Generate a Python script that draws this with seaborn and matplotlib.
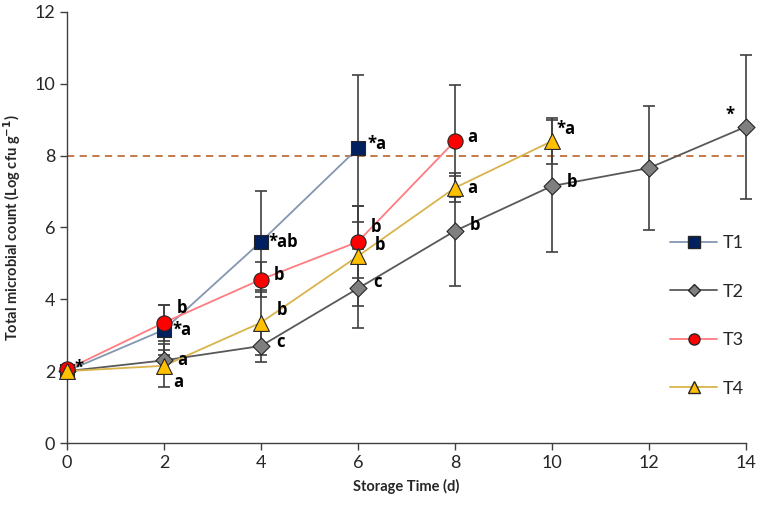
"""
Microbial growth over storage time for four treatments (T1-T4),
with error bars, significance letters and the 8 log cfu/g limit line.
"""
import numpy as np
import pandas as pd
import matplotlib
matplotlib.use('Agg')
import matplotlib.pyplot as plt
from matplotlib.lines import Line2D
import seaborn as sns

# 1. Data
days_t1 = [0, 2, 4, 6]
count_t1 = [2.0, 3.15, 5.6, 8.2]
err_t1 = [0.0, 0.7, 1.4, 2.05]

days_t2 = [0, 2, 4, 6, 8, 10, 12, 14]
count_t2 = [2.0, 2.3, 2.7, 4.3, 5.9, 7.15, 7.65, 8.8]
err_t2 = [0.0, 0.3, 0.45, 1.1, 1.53, 1.83, 1.72, 2.0]

days_t3 = [0, 2, 4, 6, 8]
count_t3 = [2.05, 3.35, 4.55, 5.6, 8.4]
err_t3 = [0.0, 0.5, 0.5, 1.0, 1.55]

days_t4 = [0, 2, 4, 6, 8, 10]
count_t4 = [2.0, 2.15, 3.35, 5.2, 7.1, 8.4]
err_t4 = [0.0, 0.6, 0.9, 1.4, 0.4, 0.65]

limit = 8.0

# significance letters: (day, value, label)
letters = [
    (0, 2.0, '*'),
    (2, 3.15, '*a'), (2, 3.35, 'b'), (2, 2.3, 'a'), (2, 2.15, 'a'),
    (4, 5.6, '*ab'), (4, 4.55, 'b'), (4, 3.35, 'b'), (4, 2.7, 'c'),
    (6, 8.2, '*a'), (6, 5.6, 'b'), (6, 5.2, 'b'), (6, 4.3, 'c'),
    (8, 8.4, 'a'), (8, 7.1, 'a'), (8, 5.9, 'b'),
    (10, 8.4, '*a'), (10, 7.15, 'b'),
    (14, 8.8, '*'),
]
# pixel offsets for each letter, same order as above
letter_offsets = [
    (8, 3), (9, 0), (13, 15), (13, 0), (9, -16),
    (8, 0), (13, 5), (16, 13), (15, 4),
    (10, 4), (13, 15), (17, 11), (15, 6),
    (12, 4), (12, 0), (15, 6),
    (5, 12), (15, 4),
    (-20, 12),
]

# 2. Long table for seaborn
series = {
    'T1': (days_t1, count_t1, err_t1),
    'T2': (days_t2, count_t2, err_t2),
    'T3': (days_t3, count_t3, err_t3),
    'T4': (days_t4, count_t4, err_t4),
}
df = pd.concat([
    pd.DataFrame({'day': d, 'count': c, 'err': e, 'trt': k})
    for k, (d, c, e) in series.items()
], ignore_index=True)

line_colors = {'T1': '#8497B0', 'T2': '#595959', 'T3': '#FF7C80', 'T4': '#D9B44A'}
face_colors = {'T1': '#002060', 'T2': '#7F7F7F', 'T3': '#FF0000', 'T4': '#FFC000'}
markers = {'T1': 's', 'T2': 'D', 'T3': 'o', 'T4': '^'}
msizes = {'T1': 95, 'T2': 75, 'T3': 120, 'T4': 130}

# 3. Plot
sns.set_style('white')
plt.rcParams['font.family'] = ['Lato', 'DejaVu Sans']

fig = plt.figure(figsize=(7.61, 5.11), dpi=100)
ax = fig.add_axes([0.088, 0.133, 0.892, 0.844])

ax.axhline(limit, color='#C0703A', lw=1.3, ls=(0, (4, 3)), zorder=1)

for k, sub in df.groupby('trt'):
    ax.errorbar(sub['day'], sub['count'], yerr=sub['err'], fmt='none',
                ecolor='#404040', elinewidth=1.2, capsize=4, capthick=1.2, zorder=2)

sns.lineplot(data=df, x='day', y='count', hue='trt', palette=line_colors,
             lw=1.3, legend=False, ax=ax, zorder=3, sort=False)

for k, sub in df.groupby('trt'):
    sns.scatterplot(data=sub, x='day', y='count', marker=markers[k], s=msizes[k],
                    color=face_colors[k], edgecolor='#262626', linewidth=0.8,
                    legend=False, ax=ax, zorder=4)

for (d, v, txt), (dx, dy) in zip(letters, letter_offsets):
    ax.annotate(txt, (d, v), xytext=(dx, dy), textcoords='offset pixels',
                ha='left', va='center', fontsize=12, fontweight='bold', color='black',
                family=['Open Sans', 'DejaVu Sans'])

# 4. Axes styling
ax.set_xlim(0, 14)
ax.set_ylim(0, 12)
ax.set_xticks(np.arange(0, 15, 2))
ax.set_yticks(np.arange(0, 13, 2))
for side in ['top', 'right']:
    ax.spines[side].set_visible(False)
for side in ['left', 'bottom']:
    ax.spines[side].set_color('#404040')
    ax.spines[side].set_linewidth(1.0)
ax.tick_params(axis='both', direction='out', length=5, width=1, color='#404040',
               labelsize=13, labelcolor='#262626', left=True, bottom=True)
ax.set_xlabel('Storage Time (d)', fontsize=10.5, fontweight='bold', labelpad=6)
ax.set_ylabel('Total microbial count (Log cfu g$^{\\mathbf{-1}}$)', fontsize=10.5,
              fontweight='bold', labelpad=8)

handles = [Line2D([0], [0], color=line_colors[k], lw=1.3, marker=markers[k],
                  markerfacecolor=face_colors[k], markeredgecolor='#262626',
                  markersize={'T1': 8, 'T2': 6, 'T3': 8, 'T4': 8}[k])
           for k in series]
ax.legend(handles, list(series), loc='upper left', bbox_to_anchor=(0.865, 0.52),
          frameon=False, fontsize=13, handlelength=2.6, labelspacing=1.8,
          handletextpad=0.3)

for coll in ax.collections + ax.lines:
    coll.set_clip_on(False)

plt.savefig('out.png', dpi=100)
